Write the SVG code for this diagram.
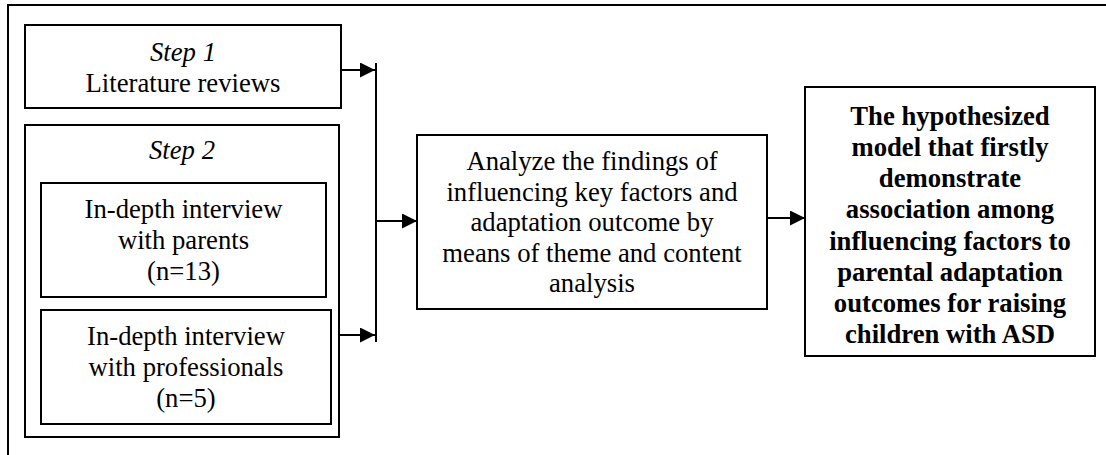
<svg xmlns="http://www.w3.org/2000/svg" width="1106" height="455" viewBox="0 0 1106 455">
  <style>
    .box { fill: #ffffff; stroke: #000000; stroke-width: 2; }
    .frame { fill: none; stroke: #000000; stroke-width: 2; }
    .line { fill: none; stroke: #000000; stroke-width: 2; }
    text { font-family: "Liberation Serif", "Times New Roman", serif; font-size: 26.7px; fill: #000000; text-anchor: middle; }
    .it { font-style: italic; }
    .bold { font-weight: bold; }
  </style>
  <defs>
    <marker id="arrow" markerUnits="userSpaceOnUse" markerWidth="16" markerHeight="16" refX="15" refY="7.5" orient="auto">
      <path d="M0,0 L15,7.5 L0,15 Z" fill="#000000"/>
    </marker>
  </defs>

  <rect width="1106" height="455" fill="#ffffff"/>

  <!-- outer frame, running past the right and bottom edges -->
  <rect class="frame" x="8" y="5" width="1200" height="500"/>

  <g id="step1">
    <rect class="box" x="25" y="25" width="316" height="83"/>
    <text class="it" x="183" y="61">Step 1</text>
    <text x="183" y="92">Literature reviews</text>
  </g>

  <g id="step2">
    <rect class="box" x="25" y="125" width="314" height="312"/>
    <text class="it" x="182" y="159">Step 2</text>
  </g>

  <g id="interview-parents">
    <rect class="box" x="41" y="183" width="285" height="114"/>
    <text x="183.5" y="218">In-depth interview</text>
    <text x="183.5" y="249">with parents</text>
    <text x="183.5" y="280">(n=13)</text>
  </g>

  <g id="interview-professionals">
    <rect class="box" x="41" y="310" width="290" height="114"/>
    <text x="186" y="345">In-depth interview</text>
    <text x="186" y="376">with professionals</text>
    <text x="186" y="407">(n=5)</text>
  </g>

  <g id="analysis">
    <rect class="box" x="417" y="135" width="350" height="174"/>
    <text x="592" y="170">Analyze the findings of</text>
    <text x="592" y="201">influencing key factors and</text>
    <text x="592" y="231">adaptation outcome by</text>
    <text x="592" y="262">means of theme and content</text>
    <text x="592" y="292">analysis</text>
  </g>

  <g id="model">
    <rect class="box" x="805" y="87" width="290" height="269"/>
    <text class="bold" x="950" y="125">The hypothesized</text>
    <text class="bold" x="950" y="156">model that firstly</text>
    <text class="bold" x="950" y="187">demonstrate</text>
    <text class="bold" x="950" y="218">association among</text>
    <text class="bold" x="950" y="250">influencing factors to</text>
    <text class="bold" x="950" y="281">parental adaptation</text>
    <text class="bold" x="950" y="312">outcomes for raising</text>
    <text class="bold" x="950" y="343">children with ASD</text>
  </g>

  <g id="connectors">
    <line class="line" x1="341" y1="70" x2="375" y2="70" marker-end="url(#arrow)"/>
    <line class="line" x1="339" y1="335" x2="375" y2="335" marker-end="url(#arrow)"/>
    <line class="line" x1="376" y1="63" x2="376" y2="342"/>
    <line class="line" x1="376" y1="221" x2="417" y2="221" marker-end="url(#arrow)"/>
    <line class="line" x1="767" y1="218" x2="805" y2="218" marker-end="url(#arrow)"/>
  </g>
</svg>
